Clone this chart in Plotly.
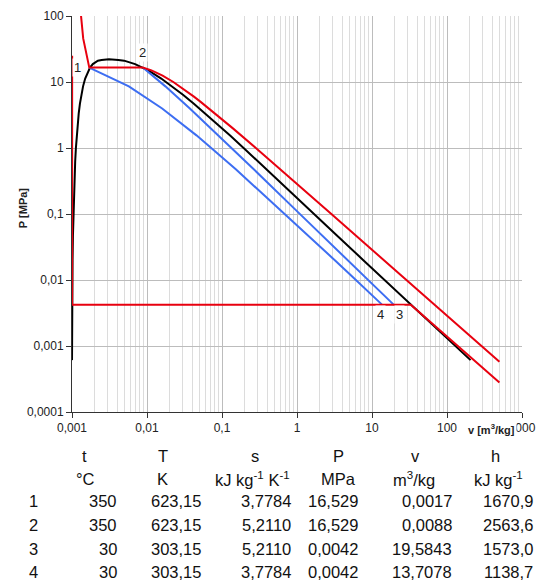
import plotly.graph_objects as go
import math

# ---------------- data ----------------
# saturation dome (P in MPa, v in m3/kg)
sat_P = [0.000611, 0.000873, 0.001228, 0.002339, 0.004247, 0.007384, 0.01235, 0.01995,
         0.04739, 0.10142, 0.19867, 0.3615, 0.6182, 1.0028, 1.5549, 2.3196, 3.3469,
         4.6923, 6.4166, 8.5879, 11.284, 14.601, 16.529, 18.666, 21.044, 21.567, 22.064]
sat_vf = [0.0010002, 0.0010001, 0.0010003, 0.0010018, 0.0010044, 0.0010079, 0.0010121,
          0.0010171, 0.0010292, 0.0010435, 0.0010603, 0.0010798, 0.0011021, 0.0011275,
          0.0011565, 0.0011900, 0.0012291, 0.0012755, 0.0013321, 0.0014041, 0.0014988,
          0.0016379, 0.00174, 0.0018945, 0.0022152, 0.00248, 0.003106]
sat_vg = [206.0, 147.0, 106.3, 57.76, 32.88, 19.52, 12.03, 7.667, 3.405, 1.672, 0.8915,
          0.5089, 0.3071, 0.1940, 0.1272, 0.08609, 0.05968, 0.04218, 0.03016, 0.02167,
          0.01549, 0.01080, 0.008812, 0.006947, 0.004953, 0.00415, 0.003106]

# isotherm 350 °C
iso350_v = [0.00132, 0.00141, 0.0017, 0.0088, 0.01147, 0.01613, 0.02243, 0.02995, 0.04224,
            0.05194, 0.06645, 0.09053, 0.1386, 0.2825, 0.5701, 1.433, 2.872, 28.74, 500]
iso350_P = [100, 45.8, 16.529, 16.529, 15, 12.5, 10, 8, 6, 5, 4, 3, 2, 1, 0.5, 0.2, 0.1,
            0.01, 0.000575]

# isotherm 30 °C
iso30_v = [0.001004, 0.001004, 32.88, 500]
iso30_P = [25, 0.0042, 0.0042, 0.00028]

# isentropes
s1_v = [0.0017, 0.005732, 0.01592, 0.04566, 0.1528, 0.6838, 3.194, 5.017, 13.7078]
s1_P = [16.529, 8.588, 3.976, 1.5549, 0.4762, 0.10142, 0.01995, 0.012352, 0.0042]
s2_v = [0.0088, 0.01758, 0.03726, 0.08968, 0.2651, 1.080, 4.746, 7.354, 19.5843]
s2_P = [16.529, 8.588, 3.976, 1.5549, 0.4762, 0.10142, 0.01995, 0.012352, 0.0042]

# state points
pt_labels = ["1", "2", "3", "4"]
pt_v = [0.0017, 0.0088, 19.5843, 13.7078]
pt_P = [16.529, 16.529, 0.0042, 0.0042]

# axes ticks
x_ticks = [0.001, 0.01, 0.1, 1, 10, 100, 1000]
x_labels = ["0,001", "0,01", "0,1", "1", "10", "100", "1000"]
y_ticks = [0.0001, 0.001, 0.01, 0.1, 1, 10, 100]
y_labels = ["0,0001", "0,001", "0,01", "0,1", "1", "10", "100"]

# table
tab_head = ["t", "T", "s", "P", "v", "h"]
tab_units = ["°C", "K", "kJ kg<sup>-1</sup> K<sup>-1</sup>", "MPa", "m<sup>3</sup>/kg", "kJ kg<sup>-1</sup>"]
col_t = ["350", "350", "30", "30"]
col_T = ["623,15", "623,15", "303,15", "303,15"]
col_s = ["3,7784", "5,2110", "5,2110", "3,7784"]
col_P = ["16,529", "16,529", "0,0042", "0,0042"]
col_v = ["0,0017", "0,0088", "19,5843", "13,7078"]
col_h = ["1670,9", "2563,6", "1573,0", "1138,7"]

# ---------------- figure ----------------
W, H = 545, 585
ML, MR, MT, MB = 72, 18, 9, 173
PW, PH = W - ML - MR, H - MT - MB

RED = "#e8000f"
BLUE = "#3d6ef2"
FONT = "Liberation Sans, Arial, sans-serif"

fig = go.Figure()
dome_v = sat_vf + sat_vg[::-1][1:]
dome_P = sat_P + sat_P[::-1][1:]
fig.add_trace(go.Scatter(x=dome_v, y=dome_P, mode="lines", line=dict(color="black", width=2),
                         hoverinfo="skip"))
fig.add_trace(go.Scatter(x=s1_v, y=s1_P, mode="lines", line=dict(color=BLUE, width=2)))
fig.add_trace(go.Scatter(x=s2_v, y=s2_P, mode="lines", line=dict(color=BLUE, width=2)))
fig.add_trace(go.Scatter(x=iso30_v, y=iso30_P, mode="lines", line=dict(color=RED, width=2)))
fig.add_trace(go.Scatter(x=iso350_v, y=iso350_P, mode="lines", line=dict(color=RED, width=2)))

minor_vals = [m * 10 ** e for e in range(-3, 3) for m in range(2, 10)]

fig.update_xaxes(type="log", range=[-3, 3], tickvals=x_ticks, ticktext=x_labels,
                 showgrid=True, gridcolor="#bcbcbc", gridwidth=1,
                 minor=dict(tickmode="array", tickvals=minor_vals, showgrid=True,
                            gridcolor="#dcdcdc", ticks=""),
                 showline=True, linecolor="#333333", linewidth=1,
                 ticks="outside", ticklen=5, tickcolor="#333333",
                 tickfont=dict(size=12, color="#222222", family=FONT), zeroline=False)
fig.update_yaxes(type="log", range=[-4, 2], tickvals=y_ticks, ticktext=y_labels,
                 showgrid=True, gridcolor="#bcbcbc", gridwidth=1,
                 showline=True, linecolor="#333333", linewidth=1,
                 ticks="outside", ticklen=5, tickcolor="#333333",
                 tickfont=dict(size=12, color="#222222", family=FONT), zeroline=False)

ann = []
offs = {"1": (-12, 0), "2": (0, 15), "3": (6, -10), "4": (-2, -10)}
for lab, v, p in zip(pt_labels, pt_v, pt_P):
    dx, dy = offs[lab]
    ann.append(dict(x=math.log10(v), y=math.log10(p), xref="x", yref="y", text=lab,
                    showarrow=False, xshift=dx, yshift=dy, bgcolor="white",
                    xanchor="center", yanchor="middle",
                    font=dict(size=13, color="#222222", family=FONT)))

def px(x):
    return (x - ML) / PW

def py(y):
    return (H - MB - y) / PH

ann.append(dict(x=px(22), y=py(205), xref="paper", yref="paper", text="<b>P [MPa]</b>",
                textangle=-90, showarrow=False, xanchor="center", yanchor="middle",
                font=dict(size=11, color="#222222", family=FONT)))
ann.append(dict(x=px(496), y=py(429), xref="paper", yref="paper", text="<b>v [m<sup>3</sup>/kg]</b>",
                showarrow=False, bgcolor="white", xanchor="center", yanchor="middle",
                font=dict(size=11, color="#222222", family=FONT)))

TF = dict(size=16.5, color="#111111", family=FONT)
head_x = [85, 164, 257, 341, 419, 500]
unit_x = [86, 164, 255, 341, 418, 503]
for hx, t in zip(head_x, tab_head):
    ann.append(dict(x=px(hx), y=py(457), xref="paper", yref="paper", text=t, showarrow=False,
                    xanchor="center", yanchor="middle", font=TF))
for ux, t in zip(unit_x, tab_units):
    ann.append(dict(x=px(ux), y=py(480), xref="paper", yref="paper", text=t, showarrow=False,
                    xanchor="center", yanchor="middle", font=TF))
row_y = [503, 527, 551, 575]
col_right = [120, 204, 295, 363, 458, 540]
cols = [col_t, col_T, col_s, col_P, col_v, col_h]
for i, ry in enumerate(row_y):
    ann.append(dict(x=px(33), y=py(ry), xref="paper", yref="paper", text=pt_labels[i],
                    showarrow=False, xanchor="center", yanchor="middle", font=TF))
    for cx, col in zip(col_right, cols):
        ann.append(dict(x=px(cx), y=py(ry), xref="paper", yref="paper", text=col[i],
                        showarrow=False, xanchor="right", yanchor="middle", font=TF))

fig.update_layout(width=W, height=H, margin=dict(l=ML, r=MR, t=MT, b=MB),
                  paper_bgcolor="white", plot_bgcolor="white", showlegend=False,
                  annotations=ann, font=dict(family=FONT))

fig.write_html("out.html", config={"displayModeBar": False},
               post_script="document.body.style.margin='0';document.body.style.padding='0';"
                           "document.body.style.overflow='hidden';")
